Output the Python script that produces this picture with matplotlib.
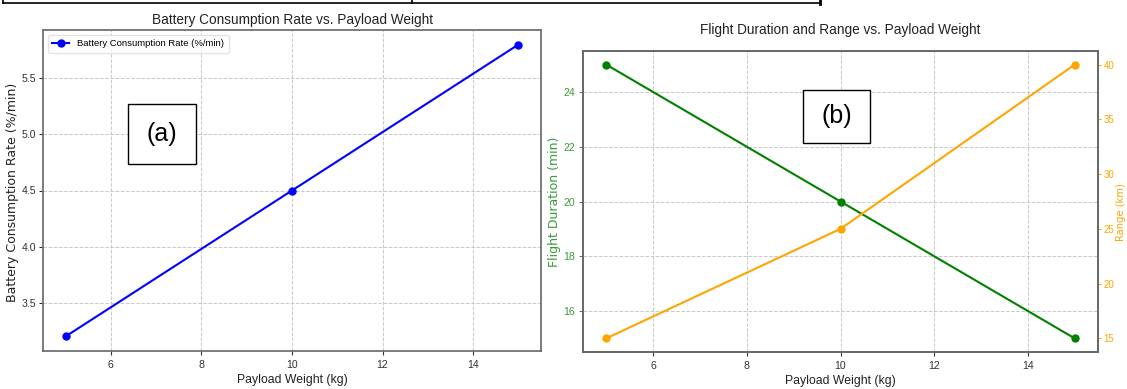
import matplotlib
matplotlib.use("Agg")
import matplotlib.pyplot as plt
from matplotlib.lines import Line2D
from matplotlib.patches import Rectangle

# Data
payload = [5, 10, 15]
battery_rate = [3.2, 4.5, 5.8]
flight_duration = [25, 20, 15]
flight_range = [15, 25, 40]

xticks = [6, 8, 10, 12, 14]
battery_ticks = [3.5, 4.0, 4.5, 5.0, 5.5]
duration_ticks = [16, 18, 20, 22, 24]
range_ticks = [15, 20, 25, 30, 35, 40]

plt.rcParams['font.family'] = ['Liberation Sans', 'DejaVu Sans']

W, H = 1127, 389
fig = plt.figure(figsize=(W / 100, H / 100), dpi=100)
fig.patch.set_facecolor('white')


def box(x0, y0, x1, y1):
    # pixel box -> figure fraction
    return [x0 / W, 1 - y1 / H, (x1 - x0) / W, (y1 - y0) / H]


spine_col = '#666666'
grid_kw = dict(color='#bbbbbb', linestyle='--', linewidth=0.7, alpha=0.8)
green_lbl = '#3a9a3a'

# ---- (a) battery consumption ----
ax1 = fig.add_axes(box(43, 30, 541, 351))
ax1.plot(payload, battery_rate, '-o', color='blue', linewidth=1.5, markersize=5,
         label='Battery Consumption Rate (%/min)')
ax1.set_xlim(4.5, 15.5)
ax1.set_ylim(3.07, 5.93)
ax1.set_xticks(xticks)
ax1.set_yticks(battery_ticks)
ax1.grid(True, **grid_kw)
ax1.set_title('Battery Consumption Rate vs. Payload Weight', fontsize=9.8, pad=4.5,
              color='#222222')
ax1.set_xlabel('Payload Weight (kg)', fontsize=8.8, color='#222222', labelpad=3)
ax1.set_ylabel('Battery Consumption Rate (%/min)', fontsize=9, family='DejaVu Sans',
               color='#222222')
ax1.yaxis.set_label_coords(-0.049, 0.495)
ax1.tick_params(labelsize=7.6, colors='#333333', length=3)
ax1.tick_params(axis='y', pad=2)
leg = ax1.legend(loc='upper left', fontsize=6.8, frameon=True, handlelength=1.8,
                 borderpad=0.5)
leg.get_frame().set_edgecolor('#dddddd')
for s in ax1.spines.values():
    s.set_color(spine_col)
    s.set_linewidth(1.2)

# ---- (b) flight duration and range ----
ax2 = fig.add_axes(box(583, 51, 1098, 352))
ax2.plot(payload, flight_duration, '-o', color='green', linewidth=1.5, markersize=5)
ax2.set_xlim(4.5, 15.5)
ax2.set_ylim(14.5, 25.5)
ax2.set_xticks(xticks)
ax2.set_yticks(duration_ticks)
ax2.grid(True, **grid_kw)
ax2.set_title('Flight Duration and Range vs. Payload Weight', fontsize=9.8, pad=12.5,
              color='#222222')
ax2.set_xlabel('Payload Weight (kg)', fontsize=8.8, color='#222222', labelpad=3)
ax2.set_ylabel('Flight Duration (min)', fontsize=9, family='DejaVu Sans',
               color=green_lbl)
ax2.yaxis.set_label_coords(-0.043, 0.5)
ax2.tick_params(axis='y', labelsize=7.6, colors=green_lbl, length=3, pad=2.5)
ax2.tick_params(axis='x', labelsize=7.6, colors='#333333', length=3)

ax3 = ax2.twinx()
ax3.plot(payload, flight_range, '-o', color='orange', linewidth=1.5, markersize=5)
ax3.set_ylim(13.75, 41.25)
ax3.set_yticks(range_ticks)
ax3.set_ylabel('Range (km)', fontsize=7.2, family='DejaVu Sans', color='orange')
ax3.yaxis.set_label_coords(1.0345, 0.465)
ax3.tick_params(axis='y', labelsize=7, colors='orange', length=2.5, pad=1.5)
for a in (ax2, ax3):
    for s in a.spines.values():
        s.set_color(spine_col)
        s.set_linewidth(1.2)

# ---- panel labels ----
for (x0, y0, x1, y1), txt in [((128, 104, 196, 164), '(a)'),
                              ((803, 90, 870, 143), '(b)')]:
    r = box(x0, y0, x1, y1)
    fig.patches.append(Rectangle((r[0], r[1]), r[2], r[3], transform=fig.transFigure,
                                 facecolor='white', edgecolor='black', linewidth=1.0,
                                 zorder=5))
    fig.text(r[0] + r[2] / 2, r[1] + r[3] / 2, txt, fontsize=18,
             ha='center', va='center', zorder=6)

# ---- cropped table border at the top ----
def seg(xs, ys, lw=1.2):
    fig.add_artist(Line2D([x / W for x in xs], [1 - y / H for y in ys],
                          color='black', linewidth=lw, transform=fig.transFigure))

seg([3, 820], [3, 3])
seg([3, 3], [0, 3])
seg([412, 412], [0, 3])
seg([820, 820], [0, 4], lw=2)

fig.savefig('out.png', dpi=100, facecolor='white')
